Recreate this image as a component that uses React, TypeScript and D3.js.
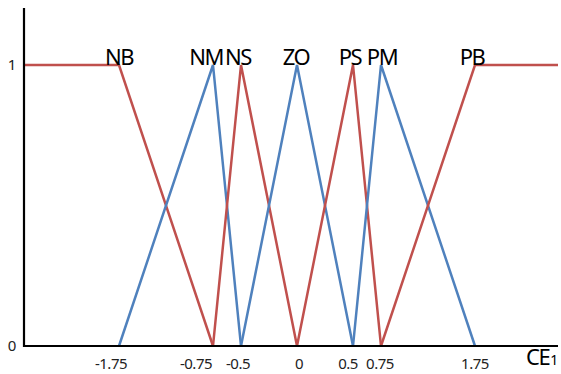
import React from "react";
import * as d3 from "d3";

const breakpoints = [-2.75, -1.75, -0.75, 0.75, 1.75, 2.75];
const tickValues = [-1.75, -0.75, -0.5, 0, 0.5, 0.75, 1.75];
const tickLabels = ["-1.75", "-0.75", "-0.5", "0", "0.5", "0.75", "1.75"];
const setNames = ["NB", "NM", "NS", "ZO", "PS", "PM", "PB"];
const setColors = ["red", "blue", "red", "blue", "red", "blue", "red"];
const setX: number[][] = [
  [-2.75, -1.75, -0.75],
  [-1.75, -0.75, -0.5],
  [-0.75, -0.5, 0],
  [-0.5, 0, 0.5],
  [0, 0.5, 0.75],
  [0.5, 0.75, 1.75],
  [0.75, 1.75, 2.75],
];
const setY: number[][] = [
  [1, 1, 0],
  [0, 1, 0],
  [0, 1, 0],
  [0, 1, 0],
  [0, 1, 0],
  [0, 1, 0],
  [0, 1, 1],
];
const yTicks = [0, 1];

// presentation offsets (pixels)
const labelDx = [0, -7, -3, -1, -3, 1, -3];
const tickDx = [-8, -17, -3, 2, -5, -1, 0];

const W = 561;
const H = 374;
const COLORS: Record<string, string> = { red: "#C0504D", blue: "#4F81BD" };
const FONT = "'Noto Sans', 'DejaVu Sans', sans-serif";

export default function App() {
  const x = d3.scaleLinear().domain(breakpoints).range([24, 119, 213, 381, 475, 558]);
  const y = d3.scaleLinear().domain([0, 1]).range([346, 65]);
  const line = d3
    .line<[number, number]>()
    .x((d) => x(d[0]))
    .y((d) => y(d[1]));

  return (
    <svg
      width={W}
      height={H}
      style={{ position: "absolute", left: 0, top: 0, background: "#fff" }}
      fontFamily={FONT}
    >
      <rect x={0} y={0} width={W} height={H} fill="#fff" />
      {setNames.map((name, i) => {
        const pts = setX[i].map((v, j) => [v, setY[i][j]] as [number, number]);
        return (
          <path
            key={name}
            d={line(pts) || ""}
            fill="none"
            stroke={COLORS[setColors[i]]}
            strokeWidth={2.5}
            strokeLinejoin="miter"
          />
        );
      })}
      {/* axes */}
      <line x1={24} y1={8} x2={24} y2={y(0) + 1} stroke="#000" strokeWidth={2.2} />
      <line x1={23} y1={y(0)} x2={558} y2={y(0)} stroke="#000" strokeWidth={2.2} />
      {yTicks.map((t) => (
        <text key={t} x={12} y={y(t) + 5} fontSize={15} textAnchor="middle" fill="#222">
          {t}
        </text>
      ))}
      {tickValues.map((t, i) => (
        <text
          key={i}
          x={x(t) + tickDx[i]}
          y={369}
          fontSize={15}
          textAnchor="middle"
          fill="#222"
          letterSpacing={-0.5}
        >
          {tickLabels[i]}
        </text>
      ))}
      {setNames.map((name, i) => {
        const peakIdx = setY[i].indexOf(1);
        const px = i === 0 ? -1.75 : i === 6 ? 1.75 : setX[i][peakIdx];
        return (
          <text
            key={name}
            x={x(px) + labelDx[i]}
            y={65}
            fontSize={22}
            textAnchor="middle"
            fill="#000"
            letterSpacing={-1.5}
          >
            {name}
          </text>
        );
      })}
      <text x={526} y={365} fontSize={22} fill="#000" letterSpacing={-1.5}>
        CE<tspan fontSize={14} dx={1}>1</tspan>
      </text>
    </svg>
  );
}
